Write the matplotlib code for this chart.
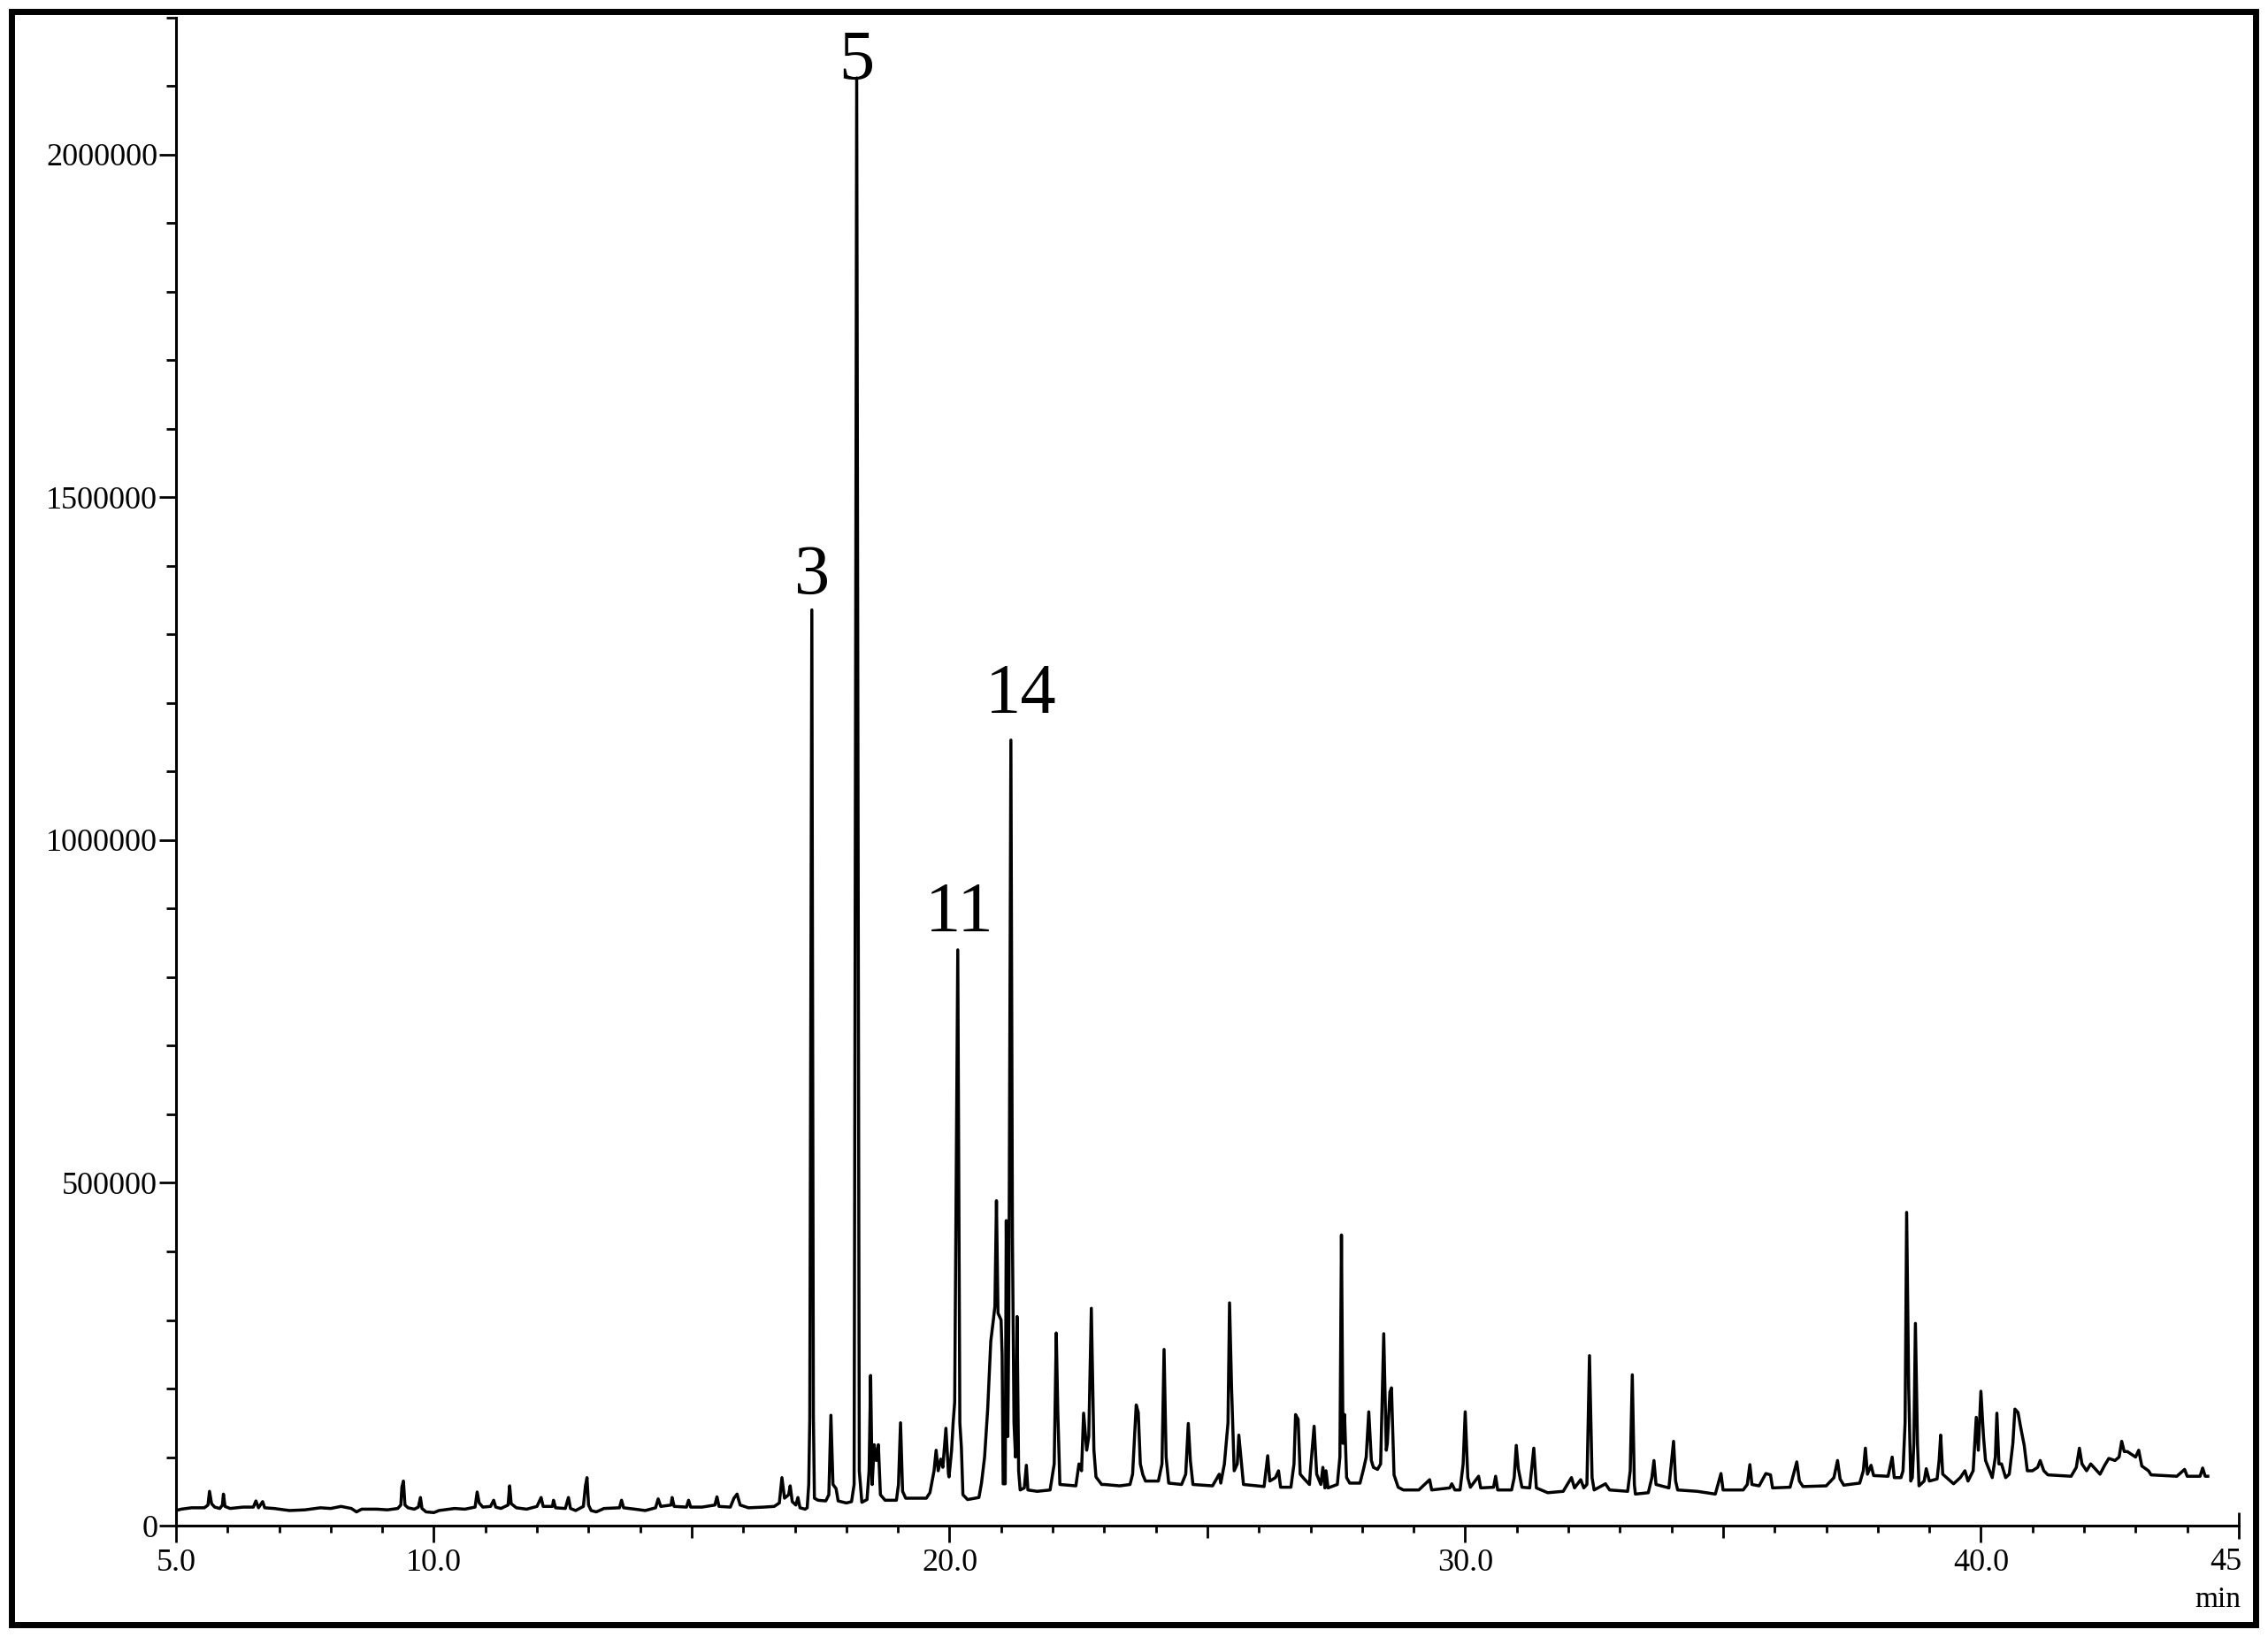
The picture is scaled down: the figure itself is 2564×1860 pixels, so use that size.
import matplotlib
matplotlib.use('Agg')
import matplotlib.pyplot as plt
import numpy as np
from matplotlib.ticker import FixedLocator, MultipleLocator
from matplotlib.patches import Rectangle

# 色谱图数据：保留时间 (min), 响应值 (千计数)，按时间分段从图上读取
seg_05_17 = [
    (5.00, 22), (5.10, 24), (5.30, 26), (5.55, 26), (5.62, 30), (5.65, 50), (5.69, 32),
    (5.75, 27), (5.85, 25), (5.90, 30), (5.92, 46), (5.95, 28), (6.05, 25), (6.30, 27),
    (6.50, 27), (6.55, 36), (6.60, 26), (6.68, 35), (6.72, 26), (6.90, 25), (7.20, 22),
    (7.50, 23), (7.80, 26), (8.00, 25), (8.20, 28), (8.40, 25), (8.50, 20), (8.60, 24),
    (8.90, 24), (9.10, 23), (9.30, 25), (9.36, 30), (9.38, 56), (9.41, 65), (9.44, 30),
    (9.50, 26), (9.62, 24), (9.70, 27), (9.74, 41), (9.77, 25), (9.85, 20), (10.00, 19),
    (10.10, 22), (10.40, 25), (10.60, 24), (10.80, 27), (10.84, 49), (10.88, 33), (10.95, 27),
    (11.10, 28), (11.16, 37), (11.20, 27), (11.30, 25), (11.44, 30), (11.47, 58), (11.50, 32),
    (11.60, 26), (11.80, 24), (12.00, 28), (12.08, 41), (12.12, 28), (12.30, 28), (12.32, 37),
    (12.36, 26), (12.55, 25), (12.61, 41), (12.65, 25), (12.75, 22), (12.90, 28), (12.94, 58),
    (12.97, 70), (13.00, 30), (13.05, 22), (13.15, 20), (13.30, 25), (13.60, 26), (13.64, 37),
    (13.68, 26), (13.90, 24), (14.10, 22), (14.30, 26), (14.35, 39), (14.40, 28), (14.60, 30),
    (14.62, 41), (14.66, 28), (14.90, 27), (14.94, 37), (14.98, 27), (15.20, 27), (15.45, 30),
    (15.49, 42), (15.53, 28), (15.75, 27), (15.82, 40), (15.88, 46), (15.94, 30), (16.10, 26),
    (16.40, 27), (16.60, 28), (16.70, 33), (16.75, 70), (16.80, 40), (16.88, 45), (16.91, 58),
    (16.95, 35), (17.02, 30), (17.06, 41), (17.10, 26), (17.20, 24),
]

seg_17_23 = [
    (17.24, 26), (17.27, 60), (17.29, 156), (17.33, 1336), (17.36, 160), (17.38, 40),
    (17.45, 37), (17.60, 36), (17.66, 45), (17.70, 161), (17.74, 60), (17.80, 54), (17.84, 36),
    (18.00, 33), (18.10, 35), (18.15, 60), (18.20, 2112), (18.25, 80), (18.30, 34), (18.40, 38),
    (18.44, 80), (18.47, 219), (18.50, 60), (18.54, 118), (18.58, 95), (18.62, 118), (18.66, 45),
    (18.75, 37), (18.97, 37), (19.01, 60), (19.05, 150), (19.09, 50), (19.15, 40), (19.55, 40),
    (19.62, 48), (19.70, 80), (19.74, 110), (19.78, 80), (19.83, 97), (19.87, 85), (19.93, 142),
    (19.98, 75), (19.99, 71), (20.04, 110), (20.07, 150), (20.10, 180), (20.16, 840),
    (20.20, 150), (20.23, 114), (20.26, 45), (20.35, 38), (20.50, 40), (20.57, 41), (20.62, 62),
    (20.68, 100), (20.74, 170), (20.80, 269), (20.85, 300), (20.88, 320), (20.91, 474),
    (20.94, 310), (21.00, 300), (21.02, 250), (21.04, 61), (21.08, 61), (21.10, 445),
    (21.13, 130), (21.15, 300), (21.19, 1146), (21.22, 420), (21.25, 150), (21.28, 100),
    (21.31, 305), (21.34, 80), (21.37, 52), (21.45, 55), (21.49, 88), (21.52, 52), (21.70, 50),
    (21.95, 52), (22.03, 90), (22.07, 281), (22.10, 165), (22.14, 60), (22.45, 58), (22.51, 90),
    (22.56, 80), (22.60, 164), (22.66, 110), (22.70, 130), (22.75, 317), (22.80, 110),
    (22.84, 71), (22.95, 60),
]

seg_23_32 = [
    (23.00, 60), (23.30, 58), (23.50, 60), (23.55, 75), (23.59, 134), (23.62, 176), (23.66, 165),
    (23.70, 90), (23.75, 74), (23.80, 65), (24.05, 65), (24.12, 90), (24.16, 257), (24.20, 100),
    (24.25, 62), (24.50, 60), (24.58, 75), (24.63, 149), (24.67, 95), (24.72, 60), (25.10, 58),
    (25.23, 75), (25.26, 62), (25.33, 90), (25.40, 150), (25.43, 325), (25.47, 200), (25.52, 80),
    (25.58, 90), (25.61, 132), (25.65, 100), (25.70, 60), (26.10, 57), (26.17, 102), (26.21, 65),
    (26.32, 70), (26.38, 80), (26.42, 56), (26.62, 56), (26.68, 90), (26.71, 162), (26.76, 155),
    (26.80, 75), (26.88, 68), (26.98, 60), (27.00, 82), (27.07, 145), (27.12, 75), (27.20, 60),
    (27.24, 85), (27.28, 55), (27.30, 80), (27.34, 55), (27.52, 60), (27.57, 100), (27.60, 424),
    (27.63, 120), (27.66, 162), (27.70, 70), (27.76, 62), (27.96, 62), (28.03, 83), (28.08, 100),
    (28.13, 166), (28.18, 95), (28.22, 85), (28.30, 82), (28.36, 90), (28.42, 280), (28.47, 110),
    (28.49, 120), (28.54, 195), (28.57, 201), (28.62, 74), (28.70, 56), (28.80, 52), (29.10, 52),
    (29.31, 67), (29.35, 52), (29.70, 55), (29.74, 61), (29.80, 52), (29.90, 52), (29.96, 90),
    (30.00, 166), (30.05, 70), (30.10, 56), (30.26, 72), (30.30, 55), (30.55, 56), (30.59, 72),
    (30.63, 52), (30.90, 52), (30.95, 70), (30.99, 117), (31.03, 83), (31.10, 56), (31.25, 55),
    (31.33, 113), (31.38, 55), (31.60, 48),
]

seg_32_45 = [
    (31.90, 50), (32.06, 70), (32.12, 55), (32.24, 67), (32.30, 55), (32.36, 60), (32.41, 248),
    (32.46, 70), (32.50, 52), (32.72, 61), (32.80, 52), (33.15, 50), (33.20, 80), (33.24, 220),
    (33.28, 60), (33.30, 46), (33.55, 48), (33.62, 70), (33.66, 95), (33.70, 60), (33.95, 55),
    (34.04, 123), (34.08, 65), (34.12, 52), (34.50, 50), (34.85, 46), (34.96, 76), (35.00, 52),
    (35.39, 52), (35.47, 60), (35.52, 89), (35.56, 60), (35.70, 58), (35.83, 76), (35.92, 74),
    (35.96, 55), (36.30, 56), (36.43, 93), (36.48, 65), (36.55, 57), (37.00, 58), (37.15, 70),
    (37.22, 95), (37.27, 68), (37.34, 59), (37.65, 62), (37.72, 80), (37.76, 113), (37.80, 75),
    (37.87, 88), (37.92, 73), (38.20, 72), (38.28, 100), (38.32, 70), (38.45, 70), (38.49, 80),
    (38.53, 150), (38.56, 457), (38.60, 200), (38.64, 65), (38.67, 70), (38.70, 120),
    (38.73, 295), (38.77, 120), (38.80, 58), (38.90, 65), (38.94, 83), (39.00, 65), (39.15, 68),
    (39.19, 95), (39.22, 132), (39.26, 75), (39.47, 61), (39.60, 70), (39.69, 80), (39.75, 65),
    (39.85, 80), (39.91, 158), (39.95, 110), (40.00, 196), (40.05, 130), (40.09, 95),
    (40.22, 70), (40.28, 100), (40.31, 164), (40.35, 90), (40.40, 90), (40.48, 70), (40.55, 75),
    (40.62, 120), (40.66, 170), (40.72, 165), (40.78, 140), (40.84, 117), (40.90, 80),
    (41.00, 80), (41.10, 85), (41.15, 95), (41.22, 80), (41.30, 74), (41.75, 72), (41.85, 85),
    (41.91, 113), (41.96, 90), (42.05, 80), (42.13, 90), (42.25, 80), (42.31, 75), (42.40, 88),
    (42.48, 98), (42.60, 95), (42.68, 100), (42.73, 123), (42.78, 108), (42.84, 108),
    (43.00, 100), (43.06, 110), (43.12, 87), (43.25, 80), (43.30, 74), (43.80, 72), (43.95, 82),
    (44.00, 72), (44.25, 72), (44.30, 84), (44.35, 72), (44.40, 72),
]

# 标注的峰：编号、保留时间、峰高(千计数)
peak_ids = ['3', '5', '11', '14']
peak_rt = [17.33, 18.20, 20.16, 21.19]
peak_height = [1336, 2112, 840, 1146]
label_offsets = [(0, 18), (0, -2), (2, 21), (11, 31)]  # 像素偏移

x_ticks = [5, 10, 15, 20, 25, 30, 35, 40, 45]
x_ticklabels = ['5.0', '10.0', '', '20.0', '', '30.0', '', '40.0', '']
y_ticks = [0, 500000, 1000000, 1500000, 2000000]
y_ticklabels = ['0', '500000', '1000000', '1500000', '2000000']

plt.rcParams['font.family'] = ['Liberation Serif', 'DejaVu Serif']

fig = plt.figure(figsize=(25.64, 18.6), dpi=100)
ax = fig.add_axes([0.0776, 0.07258, 0.9095, 0.91667])

trace = np.array(seg_05_17 + seg_17_23 + seg_23_32 + seg_32_45)
ax.plot(trace[:, 0], trace[:, 1] * 1000, color='black', lw=2.5)

ax.set_xlim(5, 45)
ax.set_ylim(0, 2200000)

for s in ['top', 'right']:
    ax.spines[s].set_visible(False)
for s in ['left', 'bottom']:
    ax.spines[s].set_linewidth(2.2)

# y 轴刻度
ax.yaxis.set_major_locator(FixedLocator(y_ticks))
ax.set_yticklabels(y_ticklabels)
ax.yaxis.set_minor_locator(MultipleLocator(100000))
ax.tick_params(axis='y', which='major', length=14, width=2, pad=1, labelsize=26)
ax.tick_params(axis='y', which='minor', length=8, width=2)

# x 轴刻度
ax.xaxis.set_major_locator(FixedLocator(x_ticks))
ax.set_xticklabels(x_ticklabels)
ax.xaxis.set_minor_locator(MultipleLocator(1))
ax.tick_params(axis='x', which='major', length=14, width=2, pad=5, labelsize=26)
ax.tick_params(axis='x', which='minor', length=6, width=2)

fig.canvas.draw()
for tk in ax.xaxis.get_major_ticks():
    if tk.get_loc() in (15, 25, 35):
        tk.tick1line.set_markersize(10)
    if tk.get_loc() == 45:
        tk.tick1line.set_marker('|')
        tk.tick1line.set_markersize(22)

ax.annotate('45', xy=(45, 0), xycoords=('data', 'axes fraction'), xytext=(3, -25),
            textcoords='offset pixels', ha='right', va='top', fontsize=26)
fig.text(0.988, 0.0274, 'min', ha='right', va='center', fontsize=24)

# 峰编号
for pid, rt, h, off in zip(peak_ids, peak_rt, peak_height, label_offsets):
    ax.annotate(pid, xy=(rt, h * 1000), xytext=off, textcoords='offset pixels',
                ha='center', va='baseline', fontsize=58)

# 外边框
fig.patches.append(Rectangle((0.00488, 0.0121), 0.98966, 0.9809, transform=fig.transFigure,
                             fill=False, lw=5, ec='black'))

fig.savefig('out.png', dpi=100)
